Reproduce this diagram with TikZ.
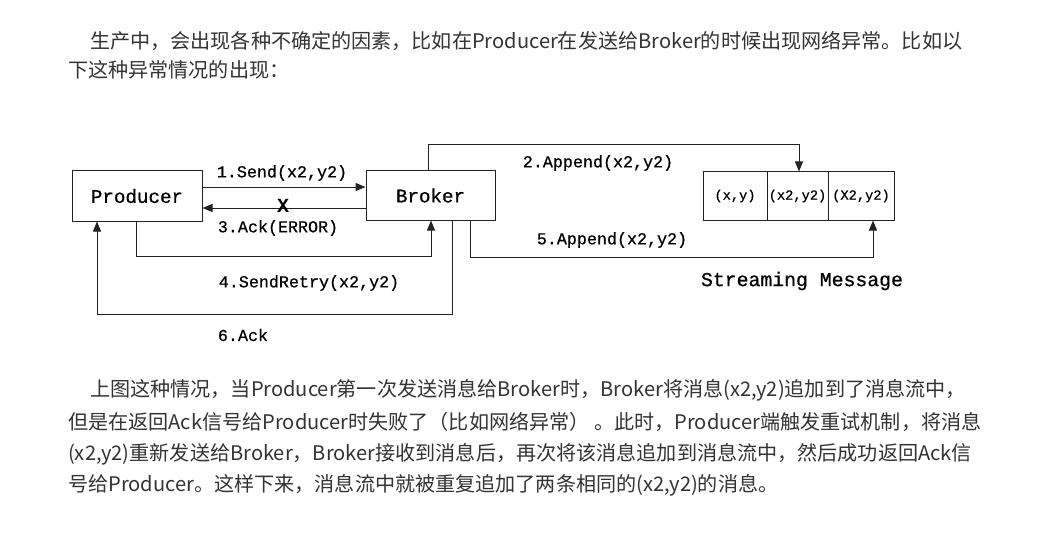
\documentclass[tikz,border=0pt]{standalone}
\usepackage{fontspec}
\usetikzlibrary{arrows.meta}
\newfontfamily\cjk{Noto Sans CJK SC}
\newfontfamily\cour{Liberation Mono}[FakeBold=0.7]
\newfontfamily\courX{Liberation Mono}
\definecolor{txt}{HTML}{333333}
\definecolor{ln}{HTML}{222222}
\tikzset{
  box/.style={draw=ln, line width=1pt, inner sep=0pt, font=\cour\fontsize{19.2}{20}\selectfont},
  cell/.style={draw=ln, line width=1pt, inner sep=0pt, minimum height=48pt, font=\cour\fontsize{13.7}{15}\selectfont},
  lab/.style={inner sep=0pt, font=\cour\fontsize{16.7}{18}\selectfont},
  conn/.style={draw=ln, line width=1pt, -{Triangle[length=10pt,width=8pt]}},
  para/.style={anchor=west, inner sep=0pt, text=txt, font=\cjk\fontsize{20.1}{22}\selectfont},
}
\begin{document}
\begin{tikzpicture}[x=1pt,y=-1pt]
\useasboundingbox[fill=white] (0,0) rectangle (1040,540);
% paragraphs
\node[para] (t1) at (90,41) {生产中，会出现各种不确定的因素，比如在Producer在发送给Broker的时候出现网络异常。比如以};
\node[para] (t2) at (68,70) {下这种异常情况的出现：};
\node[para] (b1) at (90,390) {上图这种情况，当Producer第一次发送消息给Broker时，Broker将消息(x2,y2)追加到了消息流中，};
\node[para] (b2) at (68,422) {但是在返回Ack信号给Producer时失败了（比如网络异常） 。此时，Producer端触发重试机制，将消息};
\node[para] (b3) at (68,454) {(x2,y2)重新发送给Broker，Broker接收到消息后，再次将该消息追加到消息流中，然后成功返回Ack信};
\node[para] (b4) at (68,485) {号给Producer。这样下来，消息流中就被重复追加了两条相同的(x2,y2)的消息。};
% boxes
\node[box, minimum width=130pt, minimum height=50pt] (P) at (137,196) {Producer};
\node[box, minimum width=129pt, minimum height=49pt] (B) at (430.5,195.5) {Broker};
\node[cell, minimum width=64pt] (c1) at (735,196) {(x,y)};
\node[cell, minimum width=61pt] (c2) at (797.5,196) {(x2,y2)};
\node[cell, minimum width=66pt] (c3) at (861,196) {(X2,y2)};
\node[lab, font=\cour\fontsize{19.8}{21}\selectfont] (sm) at (802,281) {Streaming Message};
% connectors
\draw[conn] (P.east |- 0,187) -- (B.west |- 0,187);
\node[lab] (l1) at (282,173) {1.Send(x2,y2)};
\draw[conn] (B.west |- 0,208) -- (P.east |- 0,208);
\node[inner sep=0pt, font=\courX\bfseries\fontsize{20}{20}\selectfont] (X) at (283,206) {X};
\node[lab] (l3) at (278,228) {3.Ack(ERROR)};
\draw[conn] (P.south -| 136,0) -- (136,256) -- (431,256) -- (B.south -| 431,0);
\node[lab] (l4) at (309,283) {4.SendRetry(x2,y2)};
\draw[conn] (B.south -| 452,0) -- (452,314) -- (97,314) -- (P.south -| 97,0);
\node[lab] (l6) at (243,335) {6.Ack};
\draw[conn] (B.north -| 428,0) -- (428,145) -- (799,145) -- (c2.north -| 799,0);
\node[lab] (l2) at (598,163) {2.Append(x2,y2)};
\draw[conn] (B.south -| 470,0) -- (470,257) -- (873,257) -- (c3.south -| 873,0);
\node[lab] (l5) at (612,240) {5.Append(x2,y2)};
\end{tikzpicture}
\end{document}
